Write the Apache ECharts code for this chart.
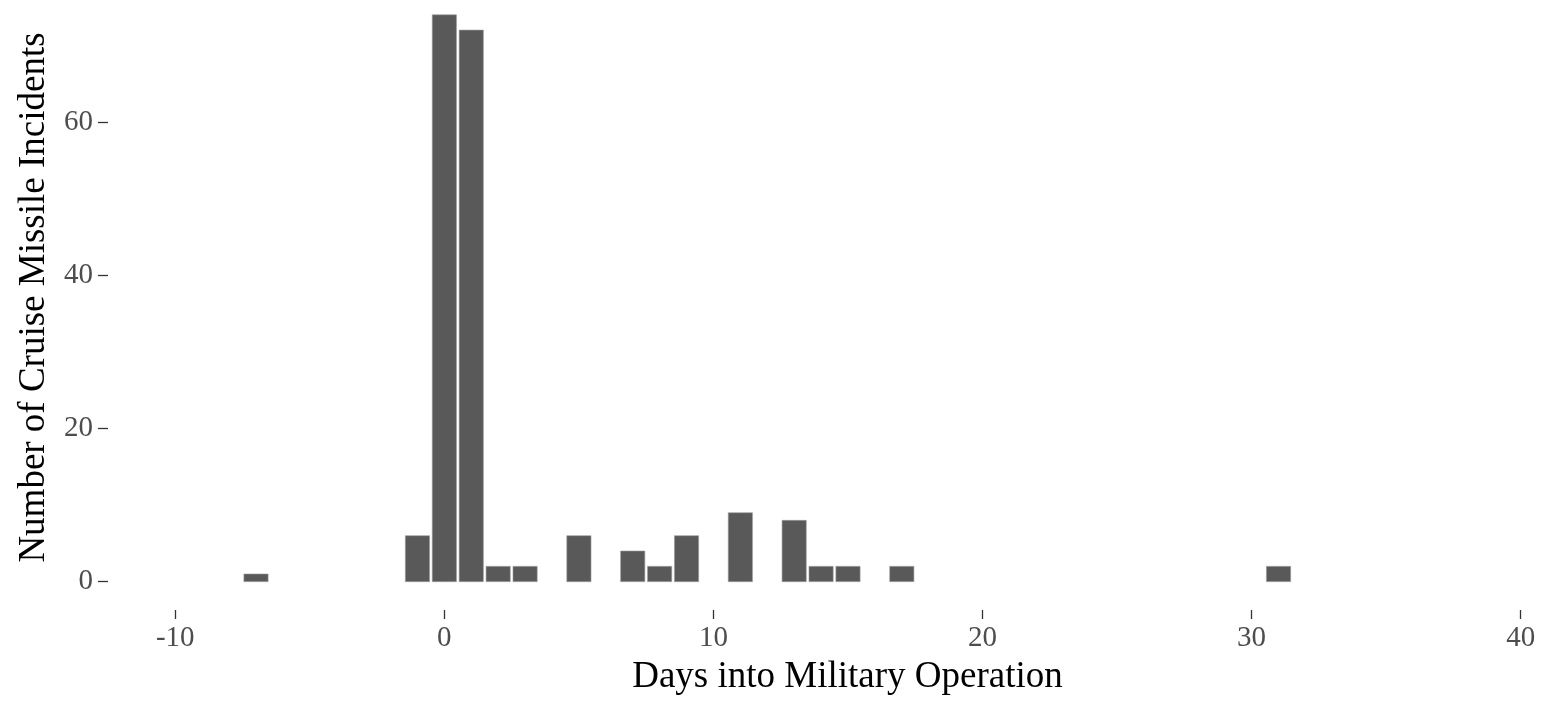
<!DOCTYPE html>
<html>
<head>
<meta charset="utf-8">
<title>Cruise Missile Incidents</title>
<script src="https://cdn.jsdelivr.net/npm/echarts@6/dist/echarts.min.js"></script>
<style>
  html, body { margin: 0; padding: 0; background: #ffffff; }
  #chart { width: 1553px; height: 712px; }
</style>
</head>
<body>
<div id="chart"></div>
<script>
// Days relative to the start of the operation, and incidents on each day
const days   = [-7, -1,  0,  1, 2, 3, 5, 7, 8, 9, 11, 13, 14, 15, 17, 31];
const counts = [ 1,  6, 74, 72, 2, 2, 6, 4, 2, 6,  9,  8,  2,  2,  2,  2];

// Tick positions and their labels
const xTicks = [-10, 0, 10, 20, 30, 40];
const yTicks = [0, 20, 40, 60];

const BAR_WIDTH = 0.9;   // in days
const SERIF = '"Liberation Serif", "Times New Roman", serif';

const chart = echarts.init(document.getElementById('chart'), null, { renderer: 'canvas' });

chart.setOption({
  animation: false,
  backgroundColor: '#ffffff',
  grid: { left: 108, right: 0, top: 0, bottom: 102, containLabel: false },
  xAxis: {
    type: 'value',
    min: -12.5,
    max: 41.2,
    name: 'Days into Military Operation',
    nameLocation: 'middle',
    nameGap: 49,
    nameTextStyle: { fontFamily: SERIF, fontSize: 37, color: '#000000', padding: [0, 0, 0, 34] },
    axisLine: { show: false, onZero: false },
    splitLine: { show: false },
    axisTick: {
      show: true, length: 9, customValues: xTicks,
      lineStyle: { color: '#333333', width: 1.3 }
    },
    axisLabel: {
      customValues: xTicks, margin: 14,
      fontFamily: SERIF, fontSize: 29, color: '#4d4d4d'
    }
  },
  yAxis: {
    type: 'value',
    min: -3.7,
    max: 75.93,
    name: 'Number of Cruise Missile Incidents',
    nameLocation: 'middle',
    nameGap: 54,
    nameTextStyle: { fontFamily: SERIF, fontSize: 37, color: '#000000', padding: [0, 0, 0, 15] },
    axisLine: { show: false, onZero: false },
    splitLine: { show: false },
    axisTick: {
      show: true, length: 10, customValues: yTicks,
      lineStyle: { color: '#333333', width: 1.3 }
    },
    axisLabel: {
      customValues: yTicks, margin: 15,
      fontFamily: SERIF, fontSize: 29, color: '#4d4d4d'
    }
  },
  series: [{
    type: 'custom',
    data: days.map((d, i) => [d, counts[i]]),
    encode: { x: 0, y: 1 },
    renderItem: function (params, api) {
      const x = api.value(0);
      const y = api.value(1);
      const topLeft = api.coord([x - BAR_WIDTH / 2, y]);
      const bottomRight = api.coord([x + BAR_WIDTH / 2, 0]);
      return {
        type: 'rect',
        shape: {
          x: topLeft[0],
          y: topLeft[1],
          width: bottomRight[0] - topLeft[0],
          height: bottomRight[1] - topLeft[1]
        },
        style: { fill: '#595959', stroke: '#9a9a9a', lineWidth: 0.6 }
      };
    }
  }]
});
</script>
</body>
</html>
